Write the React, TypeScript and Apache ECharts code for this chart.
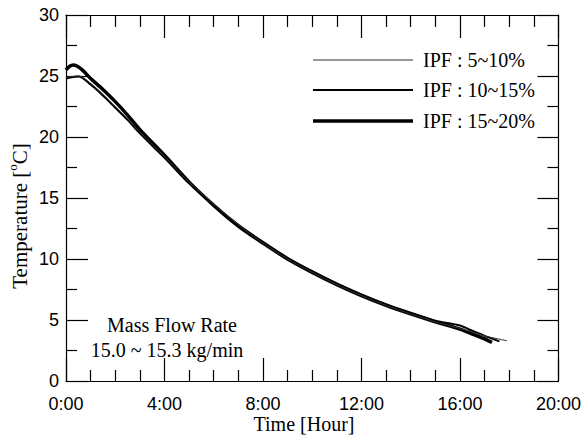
import React, { useEffect, useRef } from "react";
import * as echarts from "echarts";

// Time [hour] and temperature [°C]
const timeThin = [0, 0.5, 1, 1.5, 2, 2.5, 3, 4, 5, 6, 7, 8, 9, 10, 11, 12, 13, 14, 15, 16, 16.5, 17, 17.9];
const tempThin = [24.9, 25.0, 24.4, 23.5, 22.5, 21.5, 20.4, 18.4, 16.3, 14.5, 12.8, 11.3, 10.0, 8.9, 7.9, 7.0, 6.2, 5.5, 4.85, 4.3, 4.0, 3.7, 3.3];

const timeMid = [0, 0.5, 1, 1.5, 2, 2.5, 3, 4, 5, 6, 7, 8, 9, 10, 11, 12, 13, 14, 15, 16, 16.4, 17, 17.6];
const tempMid = [24.8, 24.95, 24.3, 23.4, 22.4, 21.4, 20.3, 18.3, 16.2, 14.4, 12.8, 11.4, 10.1, 9.0, 8.0, 7.1, 6.3, 5.6, 4.95, 4.55, 4.2, 3.7, 3.25];

const timeThick = [0, 0.15, 0.3, 0.6, 1, 1.5, 2, 2.5, 3, 4, 5, 6, 7, 8, 9, 10, 11, 12, 13, 14, 15, 16, 16.5, 17, 17.3];
const tempThick = [25.5, 25.8, 25.9, 25.6, 24.8, 23.9, 22.9, 21.8, 20.6, 18.5, 16.3, 14.4, 12.7, 11.3, 10.0, 8.9, 7.9, 7.0, 6.2, 5.5, 4.85, 4.25, 3.85, 3.45, 3.15];

const seriesNames = ["IPF : 5~10%", "IPF : 10~15%", "IPF : 15~20%"];
const annotationLines = ["Mass Flow Rate", "15.0 ~ 15.3 kg/min"];
const xTitle = "Time [Hour]";

const pairs = (t: number[], v: number[]) => t.map((x, i) => [x, v[i]]);

export default function App() {
  const ref = useRef<HTMLDivElement>(null);
  useEffect(() => {
    if (!ref.current) return;
    const chart = echarts.init(ref.current, undefined, { renderer: "svg" });
    const serif = "'Liberation Serif', 'Times New Roman', serif";
    const sans = "'Liberation Sans', Arial, sans-serif";
    const gridL = 66, gridT = 15, gridR = 563, gridB = 381;
    const axisLine = { show: true, onZero: false, lineStyle: { color: "#000", width: 1.2 } };
    const tickStyle = { color: "#000", width: 1.2 };
    const widths = [1, 2, 3.5];
    const colors = ["#333", "#000", "#000"];
    const data = [pairs(timeThin, tempThin), pairs(timeMid, tempMid), pairs(timeThick, tempThick)];

    const legendRows = [60, 90, 121];
    const legendGraphics: any[] = [];
    seriesNames.forEach((n, i) => {
      legendGraphics.push({
        type: "line",
        shape: { x1: 313, y1: legendRows[i], x2: 413, y2: legendRows[i] },
        style: { stroke: colors[i], lineWidth: widths[i] },
      });
      legendGraphics.push({
        type: "text",
        x: 423,
        y: legendRows[i],
        style: { text: n, font: `20px ${serif}`, fill: "#000", verticalAlign: "middle", align: "left" },
      });
    });

    chart.setOption({
      animation: false,
      backgroundColor: "#fff",
      grid: { left: gridL, top: gridT, right: 584 - gridR, bottom: 435 - gridB, containLabel: false },
      xAxis: [
        {
          type: "value",
          min: 0,
          max: 20,
          interval: 4,
          axisLine,
          axisTick: { show: true, inside: true, length: 23, lineStyle: tickStyle },
          minorTick: { show: true, splitNumber: 4, length: 11, lineStyle: tickStyle },
          splitLine: { show: false },
          axisLabel: {
            formatter: (v: number) => `${v}:00`,
            color: "#000",
            fontFamily: sans,
            fontSize: 18,
            lineHeight: 18,
            margin: 14,
            showMaxLabel: true,
            showMinLabel: true,
          },
        },
        {
          type: "value",
          position: "top",
          min: 0,
          max: 20,
          interval: 4,
          axisLine,
          axisTick: { show: true, inside: true, length: 23, lineStyle: tickStyle },
          minorTick: { show: true, splitNumber: 4, length: 12, lineStyle: tickStyle },
          splitLine: { show: false },
          axisLabel: { show: false },
        },
      ],
      yAxis: [
        {
          type: "value",
          min: 0,
          max: 30,
          interval: 5,
          axisLine,
          axisTick: { show: true, inside: true, length: 22, lineStyle: tickStyle },
          minorTick: { show: true, splitNumber: 2, length: 11, lineStyle: tickStyle },
          splitLine: { show: false },
          axisLabel: { color: "#000", fontFamily: sans, fontSize: 18, margin: 7 },
        },
        {
          type: "value",
          position: "right",
          min: 0,
          max: 30,
          interval: 5,
          axisLine,
          axisTick: { show: true, inside: true, length: 21, lineStyle: tickStyle },
          minorTick: { show: true, splitNumber: 2, length: 11, lineStyle: tickStyle },
          splitLine: { show: false },
          axisLabel: { show: false },
        },
      ],
      series: seriesNames.map((n, i) => ({
        name: n,
        type: "line",
        xAxisIndex: 0,
        yAxisIndex: 0,
        data: data[i],
        showSymbol: false,
        smooth: 0.3,
        lineStyle: { color: colors[i], width: widths[i] },
        itemStyle: { color: colors[i] },
        z: 3 - i,
      })),
      graphic: [
        ...legendGraphics,
        {
          type: "text",
          x: 172,
          y: 325,
          style: { text: annotationLines[0], font: `20px ${serif}`, fill: "#000", align: "center", verticalAlign: "middle" },
        },
        {
          type: "text",
          x: 167,
          y: 350,
          style: { text: annotationLines[1], font: `20px ${serif}`, fill: "#000", align: "center", verticalAlign: "middle" },
        },
        {
          type: "text",
          x: 304,
          y: 424,
          style: { text: xTitle, font: `20px ${serif}`, fill: "#000", align: "center", verticalAlign: "middle" },
        },
        {
          type: "text",
          x: 18,
          y: 216,
          rotation: Math.PI / 2,
          style: {
            text: "{a|Temperature [}{s|o}{a|C]}",
            align: "center",
            verticalAlign: "middle",
            fill: "#000",
            rich: {
              a: { fontFamily: serif, fontSize: 21, fill: "#000", verticalAlign: "bottom", lineHeight: 24 },
              s: { fontFamily: serif, fontSize: 13, fill: "#000", verticalAlign: "top", lineHeight: 24, padding: [0, 0, 8, 0] },
            },
          },
        },
      ],
    });
    return () => chart.dispose();
  }, []);
  return <div ref={ref} style={{ position: "fixed", left: 0, top: 0, width: 584, height: 435 }} />;
}
